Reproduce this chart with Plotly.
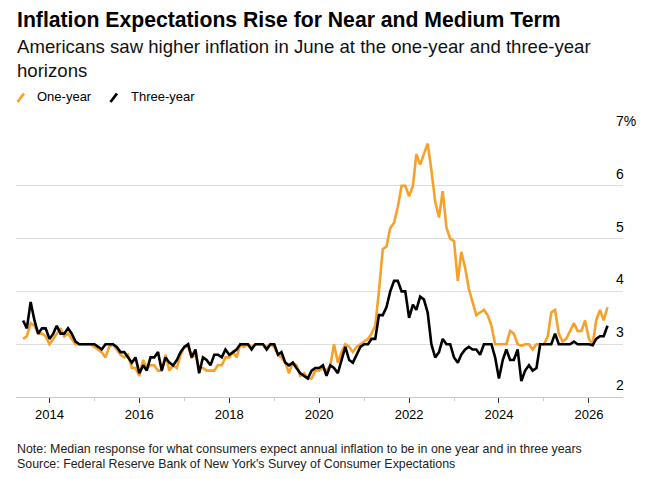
import pandas as pd
import plotly.graph_objects as go

# NY Fed Survey of Consumer Expectations, median expected inflation (%), monthly from June 2013
one_year = [
    3.1, 3.15, 3.4, 3.35, 3.2, 3.2, 3.15, 3.0, 3.1, 3.2,
    3.3, 3.15, 3.2, 3.1, 3.0, 3.0, 3.0, 3.0, 3.0, 2.95,
    2.9, 2.85, 2.75, 2.95, 3.0, 2.9, 2.8, 2.75, 2.8, 2.55,
    2.55, 2.4, 2.7, 2.55, 2.6, 2.6, 2.5, 2.5, 2.8, 2.5,
    2.6, 2.55, 2.8, 2.95, 2.95, 2.75, 2.8, 2.55, 2.55, 2.5,
    2.5, 2.5, 2.6, 2.6, 2.75, 2.75, 2.85, 2.75, 3.0, 2.95,
    3.0, 2.95, 3.0, 3.0, 3.0, 2.95, 3.0, 2.95, 2.8, 2.75,
    2.65, 2.45, 2.65, 2.6, 2.4, 2.45, 2.35, 2.35, 2.5, 2.5,
    2.55, 2.5, 2.6, 3.0, 2.65, 2.85, 3.0, 2.95, 2.85, 2.95,
    3.0, 3.05, 3.1, 3.2, 3.35, 4.0, 4.8, 4.85, 5.2, 5.3,
    5.6, 6.0, 6.0, 5.8, 6.0, 6.6, 6.4, 6.6, 6.8, 6.3,
    5.7, 5.4, 5.9, 5.2, 5.0, 4.95, 4.2, 4.75, 4.45, 4.05,
    3.8, 3.55, 3.6, 3.65, 3.55, 3.35, 3.0, 3.0, 3.0, 3.0,
    3.25, 3.2, 3.0, 2.97, 3.0, 3.0, 2.9, 3.0, 3.0, 3.0,
    3.15, 3.6, 3.65, 3.2, 3.05, 3.1, 3.25, 3.4, 3.25, 3.25,
    3.45, 3.1, 3.0, 3.45, 3.65, 3.45, 3.7,
]
three_year = [
    3.45, 3.3, 3.8, 3.45, 3.2, 3.3, 3.3, 3.1, 3.2, 3.35,
    3.2, 3.2, 3.3, 3.2, 3.05, 3.0, 3.0, 3.0, 3.0, 3.0,
    2.95, 2.9, 3.0, 3.0, 3.0, 2.95, 2.85, 2.85, 2.75, 2.65,
    2.75, 2.45, 2.6, 2.5, 2.75, 2.75, 2.85, 2.5, 2.75, 2.65,
    2.6, 2.7, 2.85, 2.95, 3.0, 2.75, 2.9, 2.45, 2.75, 2.7,
    2.6, 2.8, 2.8, 2.75, 2.9, 2.8, 2.85, 2.9, 3.0, 3.0,
    3.0, 2.9, 3.0, 3.0, 3.0, 2.9, 3.0, 3.0, 2.8, 2.85,
    2.65, 2.6, 2.65, 2.55, 2.45, 2.4, 2.35, 2.5, 2.55, 2.55,
    2.6, 2.4, 2.6, 2.55, 2.45, 2.7, 2.95, 2.7, 2.65, 2.8,
    2.95, 3.0, 3.0, 3.1, 3.1, 3.55, 3.55, 3.7, 4.0, 4.2,
    4.2, 4.0, 4.0, 3.5, 3.75, 3.65, 3.9, 3.85, 3.6, 3.0,
    2.75, 2.85, 3.1, 3.0, 3.0, 2.75, 2.65, 2.8, 2.9, 2.95,
    2.9, 2.9, 2.8, 3.0, 3.0, 3.0, 2.75, 2.35, 2.7, 2.9,
    2.7, 2.7, 2.9, 2.3, 2.5, 2.6, 2.5, 2.55, 3.0, 3.0,
    3.0, 3.0, 3.2, 3.0, 3.0, 3.0, 3.0, 3.05, 3.0, 3.0,
    3.0, 3.0, 2.98, 3.1, 3.15, 3.15, 3.35,
]
dates = pd.date_range("2013-06-01", periods=len(one_year), freq="MS")

y_ticks = [2, 3, 4, 5, 6, 7]
y_tick_text = ["2", "3", "4", "5", "6", "7%"]

ORANGE = "#f7a12a"
BLACK = "#000000"
FONT = "Liberation Sans, Arial, sans-serif"

W, H = 646, 479
L, R, T, B = 16, 23, 133, 82
pw, ph = W - L - R, H - T - B


def px(x, y):
    # pixel position -> paper coords
    return (x - L) / pw, (H - B - y) / ph


fig = go.Figure()
fig.add_trace(go.Scatter(x=dates, y=one_year, mode="lines", name="One-year",
                         line=dict(color=ORANGE, width=2.6)))
fig.add_trace(go.Scatter(x=dates, y=three_year, mode="lines", name="Three-year",
                         line=dict(color=BLACK, width=2.6)))

ann = []
x0, y0 = px(15, 6)
ann.append(dict(text="<b>Inflation Expectations Rise for Near and Medium Term</b>",
                x=x0, y=y0, xanchor="left", yanchor="top",
                font=dict(size=21.2, color="#000", family=FONT)))
x0, y0 = px(15, 34)
ann.append(dict(text="Americans saw higher inflation in June at the one-year and three-year<br>horizons",
                x=x0, y=y0, xanchor="left", yanchor="top", align="left",
                font=dict(size=18.6, color="#111", family=FONT)))
x0, y0 = px(35, 97)
ann.append(dict(text="One-year", x=x0, y=y0, xanchor="left", yanchor="middle",
                font=dict(size=13, color="#000", family=FONT)))
x0, y0 = px(129, 97)
ann.append(dict(text="Three-year", x=x0, y=y0, xanchor="left", yanchor="middle",
                font=dict(size=13, color="#000", family=FONT)))
x0, y0 = px(15, 449)
ann.append(dict(text="Note: Median response for what consumers expect annual inflation to be in one year and in three years",
                x=x0, y=y0, xanchor="left", yanchor="middle",
                font=dict(size=12.4, color="#222", family=FONT)))
x0, y0 = px(15, 464)
ann.append(dict(text="Source: Federal Reserve Bank of New York's Survey of Consumer Expectations",
                x=x0, y=y0, xanchor="left", yanchor="middle",
                font=dict(size=12.4, color="#222", family=FONT)))
for a in ann:
    a.update(xref="paper", yref="paper", showarrow=False)

# y tick labels sit above the gridlines at the right
for v, t in zip(y_ticks, y_tick_text):
    ann.append(dict(text=t, x=px(614, 0)[0], y=v, xref="paper", yref="y",
                    xanchor="left", yanchor="bottom", yshift=2, showarrow=False,
                    font=dict(size=14, color="#000", family=FONT)))

shapes = []
for (xa, ya, xb, yb), c in [((17.5, 102, 24, 93.5), ORANGE), ((110.5, 102, 117, 93.5), BLACK)]:
    a1, b1 = px(xa, ya)
    a2, b2 = px(xb, yb)
    shapes.append(dict(type="line", xref="paper", yref="paper", x0=a1, y0=b1, x1=a2, y1=b2,
                       line=dict(color=c, width=2.8)))

fig.update_layout(
    width=W, height=H,
    margin=dict(l=L, r=R, t=T, b=B),
    paper_bgcolor="white", plot_bgcolor="white",
    showlegend=False,
    annotations=ann,
    shapes=shapes,
    font=dict(family=FONT),
)
fig.update_xaxes(
    range=["2013-04-04", "2026-10-05"],
    tick0="2014-01-01", dtick="M24", tickformat="%Y",
    ticks="outside", ticklen=5, tickcolor="#333", tickwidth=1,
    minor=dict(dtick="M12", ticks="outside", ticklen=3, tickcolor="#ccc", showgrid=False),
    showgrid=False, showline=True, linecolor="#c8c8c8", linewidth=1,
    tickfont=dict(size=13, color="#000", family=FONT),
    zeroline=False,
)
fig.update_yaxes(
    range=[2, 7], tickvals=y_ticks, showticklabels=False,
    showgrid=True, gridcolor="#dedede", gridwidth=1, zeroline=False,
)

# drop the default page margin so the figure sits at the window's top-left corner
fig.write_html("out.html", config={"displayModeBar": False},
               post_script="document.body.style.margin='0';")
